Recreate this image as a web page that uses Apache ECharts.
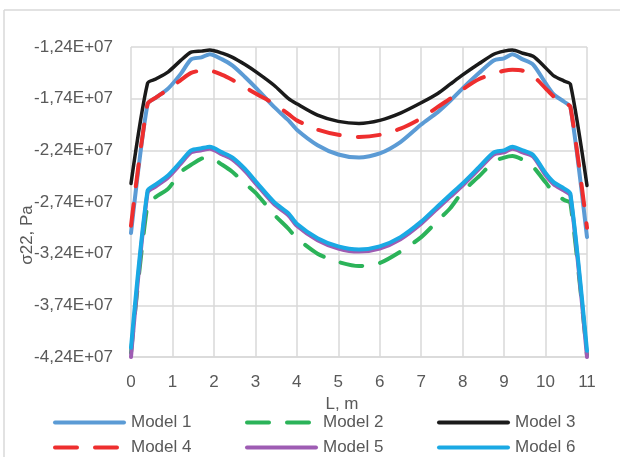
<!DOCTYPE html>
<html>
<head>
<meta charset="utf-8">
<script src="https://cdn.jsdelivr.net/npm/echarts@6/dist/echarts.min.js"></script>
<style>
  html, body { margin: 0; padding: 0; background: #fff; }
  #chart { width: 620px; height: 457px; }
</style>
</head>
<body>
<div id="chart"></div>
<script>
// values are in units of 1E+07 Pa
const SCALE = 1e7
const xs = [0, 0.4, 0.6, 0.9, 1.2, 1.45, 1.7, 1.9, 2.2, 2.45, 2.75, 3.05, 3.45, 3.8, 4.0, 4.5, 5.0, 5.5, 6.0, 6.5, 7.0, 7.4, 7.7, 8.0, 8.4, 8.75, 9.0, 9.2, 9.45, 9.7, 10.0, 10.2, 10.45, 10.6, 11]

const model1 = [-3.04, -1.79, -1.73, -1.64, -1.50, -1.36, -1.34, -1.31, -1.36, -1.42, -1.53, -1.65, -1.82, -1.95, -2.04, -2.19, -2.28, -2.31, -2.27, -2.16, -1.99, -1.87, -1.76, -1.64, -1.49, -1.37, -1.35, -1.31, -1.36, -1.41, -1.59, -1.70, -1.77, -1.82, -3.08]
const model2 = [-4.20, -2.76, -2.69, -2.61, -2.45, -2.38, -2.32, -2.31, -2.38, -2.45, -2.56, -2.67, -2.86, -3.00, -3.09, -3.24, -3.32, -3.36, -3.33, -3.22, -3.08, -2.92, -2.80, -2.64, -2.49, -2.35, -2.31, -2.295, -2.33, -2.40, -2.55, -2.65, -2.72, -2.75, -4.22]
const model3 = [-2.56, -1.59, -1.55, -1.48, -1.37, -1.29, -1.28, -1.27, -1.30, -1.34, -1.41, -1.49, -1.61, -1.74, -1.79, -1.90, -1.96, -1.98, -1.95, -1.88, -1.78, -1.69, -1.60, -1.51, -1.40, -1.31, -1.28, -1.27, -1.30, -1.33, -1.44, -1.52, -1.57, -1.60, -2.58]
const model4 = [-2.97, -1.79, -1.73, -1.65, -1.56, -1.49, -1.47, -1.47, -1.51, -1.56, -1.63, -1.70, -1.79, -1.89, -1.95, -2.04, -2.09, -2.11, -2.09, -2.03, -1.93, -1.82, -1.74, -1.65, -1.55, -1.50, -1.47, -1.46, -1.47, -1.52, -1.64, -1.72, -1.78, -1.82, -2.99]
const model5 = [-4.24, -2.65, -2.59, -2.50, -2.37, -2.26, -2.24, -2.225, -2.28, -2.33, -2.44, -2.58, -2.76, -2.87, -2.97, -3.11, -3.19, -3.22, -3.19, -3.10, -2.95, -2.80, -2.69, -2.58, -2.42, -2.28, -2.26, -2.225, -2.26, -2.30, -2.48, -2.57, -2.63, -2.68, -4.24]
const model6 = [-4.15, -2.63, -2.57, -2.48, -2.35, -2.24, -2.22, -2.205, -2.26, -2.31, -2.42, -2.56, -2.74, -2.85, -2.95, -3.09, -3.17, -3.20, -3.17, -3.08, -2.93, -2.78, -2.67, -2.56, -2.40, -2.26, -2.24, -2.205, -2.24, -2.285, -2.46, -2.55, -2.61, -2.66, -4.18]

const font = "'Liberation Sans', Arial, sans-serif"
const textColor = '#595959'
const gridColor = '#d9d9d9'

function pairs(vals) {
  return xs.map((x, i) => [x, vals[i] * SCALE])
}

function line(name, vals, color, width, dashed) {
  return {
    name,
    type: 'line',
    data: pairs(vals),
    smooth: 0.25,
    symbol: 'none',
    showSymbol: false,
    lineStyle: {
      color,
      width,
      type: dashed ? [22, 18] : 'solid',
      cap: 'round',
      join: 'round',
    },
    itemStyle: { color },
  }
}

function legendCol(left, data) {
  return {
    data,
    orient: 'vertical',
    left,
    top: 414,
    padding: 0,
    itemWidth: 69,
    itemHeight: 20,
    itemGap: 8,
    itemStyle: { opacity: 0, borderWidth: 0 },
    lineStyle: { width: 4, cap: 'round' },
    textStyle: { fontSize: 17, color: textColor, fontFamily: font, padding: [0, 0, 0, 2] },
  }
}

const chart = echarts.init(document.getElementById('chart'))
chart.setOption({
  animation: false,
  textStyle: { fontFamily: font },
  grid: { left: 131, right: 33, top: 47, bottom: 100 },
  xAxis: {
    type: 'value',
    min: 0,
    max: 11,
    interval: 1,
    name: 'L, m',
    nameLocation: 'middle',
    nameGap: 37,
    nameTextStyle: { fontSize: 17, color: textColor, padding: [0, 34, 0, 0] },
    axisLine: { lineStyle: { color: gridColor, width: 1.5 } },
    axisTick: { show: false },
    axisLabel: { fontSize: 17, color: textColor, margin: 17 },
    splitLine: { show: true, lineStyle: { color: gridColor, width: 1.5 } },
  },
  yAxis: {
    type: 'value',
    min: -4.24e7,
    max: -1.24e7,
    interval: 5e6,
    axisLine: { show: false },
    axisTick: { show: false },
    axisLabel: {
      fontSize: 17,
      color: textColor,
      margin: 18,
      formatter: v => (v / SCALE).toFixed(2).replace('.', ',') + 'E+07',
    },
    splitLine: { lineStyle: { color: gridColor, width: 1.5 } },
  },
  legend: [
    legendCol(53, ['Model 1', 'Model 4']),
    legendCol(245, ['Model 2', 'Model 5']),
    legendCol(437, ['Model 3', 'Model 6']),
  ],
  graphic: [
    { type: 'line', shape: { x1: 4, y1: 10, x2: 620, y2: 10 }, style: { stroke: gridColor, lineWidth: 1.5 } },
    { type: 'line', shape: { x1: 4, y1: 10, x2: 4, y2: 457 }, style: { stroke: gridColor, lineWidth: 1.5 } },
    {
      type: 'text',
      x: 27,
      y: 235,
      rotation: Math.PI / 2,
      style: { text: 'σ22, Pa', fontSize: 17, fill: textColor, fontFamily: font, align: 'center', verticalAlign: 'middle' },
    },
  ],
  series: [
    line('Model 1', model1, '#5b9bd5', 4, false),
    line('Model 2', model2, '#2bb359', 4, true),
    line('Model 3', model3, '#1a1a1a', 3.5, false),
    line('Model 4', model4, '#ee2e2e', 4, true),
    line('Model 5', model5, '#9e5cb3', 4, false),
    line('Model 6', model6, '#1aa9e4', 4, false),
  ],
})
</script>
</body>
</html>
